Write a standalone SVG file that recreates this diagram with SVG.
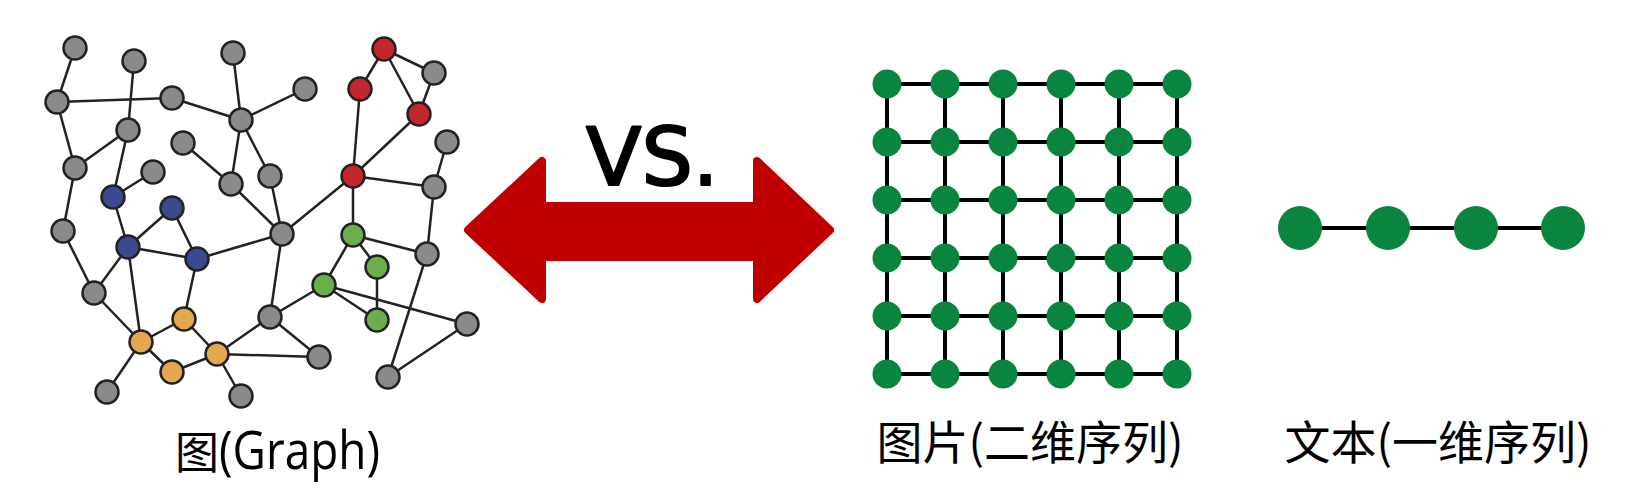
<svg xmlns="http://www.w3.org/2000/svg" width="1631" height="499" viewBox="0 0 1631 499">
<style>
.e{stroke:#222;stroke-width:2.5;fill:none}
.n{stroke:#222;stroke-width:2.5}
.g{fill:#8a8a8a}.b{fill:#3b4a8f}.r{fill:#c4262e}.v{fill:#6aaf4c}.o{fill:#e6a84e}
.gl{stroke:#000;stroke-width:4;fill:none}
.gn{fill:#0a8540}
.cj{font-family:"Noto Sans CJK SC",sans-serif;font-size:46px;fill:#000}
</style>
<rect width="1631" height="499" fill="#fff"/>
<g id="graph-edges">
<line class="e" x1="75" y1="48" x2="57" y2="102"/>
<line class="e" x1="57" y1="102" x2="172" y2="98"/>
<line class="e" x1="134" y1="61" x2="128" y2="130"/>
<line class="e" x1="172" y1="98" x2="241" y2="120"/>
<line class="e" x1="233" y1="53" x2="241" y2="120"/>
<line class="e" x1="241" y1="120" x2="305" y2="89"/>
<line class="e" x1="57" y1="102" x2="75" y2="168"/>
<line class="e" x1="128" y1="130" x2="75" y2="168"/>
<line class="e" x1="128" y1="130" x2="113" y2="197"/>
<line class="e" x1="113" y1="197" x2="153" y2="172"/>
<line class="e" x1="75" y1="168" x2="63" y2="231"/>
<line class="e" x1="183" y1="143" x2="231" y2="184"/>
<line class="e" x1="241" y1="120" x2="231" y2="184"/>
<line class="e" x1="241" y1="120" x2="270" y2="176"/>
<line class="e" x1="231" y1="184" x2="282" y2="234"/>
<line class="e" x1="270" y1="176" x2="282" y2="234"/>
<line class="e" x1="282" y1="234" x2="353" y2="176"/>
<line class="e" x1="353" y1="176" x2="360" y2="89"/>
<line class="e" x1="360" y1="89" x2="384" y2="49"/>
<line class="e" x1="384" y1="49" x2="434" y2="73"/>
<line class="e" x1="384" y1="49" x2="419" y2="114"/>
<line class="e" x1="434" y1="73" x2="419" y2="114"/>
<line class="e" x1="419" y1="114" x2="353" y2="176"/>
<line class="e" x1="353" y1="176" x2="434" y2="187"/>
<line class="e" x1="434" y1="187" x2="447" y2="142"/>
<line class="e" x1="353" y1="176" x2="353" y2="235"/>
<line class="e" x1="353" y1="235" x2="427" y2="254"/>
<line class="e" x1="353" y1="235" x2="377" y2="267"/>
<line class="e" x1="353" y1="235" x2="324" y2="285"/>
<line class="e" x1="377" y1="267" x2="377" y2="320"/>
<line class="e" x1="324" y1="285" x2="377" y2="320"/>
<line class="e" x1="324" y1="285" x2="467" y2="324"/>
<line class="e" x1="324" y1="285" x2="270" y2="317"/>
<line class="e" x1="434" y1="187" x2="427" y2="254"/>
<line class="e" x1="427" y1="254" x2="388" y2="377"/>
<line class="e" x1="388" y1="377" x2="467" y2="324"/>
<line class="e" x1="282" y1="234" x2="270" y2="317"/>
<line class="e" x1="282" y1="234" x2="197" y2="259"/>
<line class="e" x1="113" y1="197" x2="128" y2="247"/>
<line class="e" x1="172" y1="208" x2="128" y2="247"/>
<line class="e" x1="172" y1="208" x2="197" y2="259"/>
<line class="e" x1="128" y1="247" x2="197" y2="259"/>
<line class="e" x1="63" y1="231" x2="94" y2="293"/>
<line class="e" x1="128" y1="247" x2="94" y2="293"/>
<line class="e" x1="128" y1="247" x2="141" y2="342"/>
<line class="e" x1="94" y1="293" x2="141" y2="342"/>
<line class="e" x1="197" y1="259" x2="184" y2="319"/>
<line class="e" x1="184" y1="319" x2="141" y2="342"/>
<line class="e" x1="184" y1="319" x2="217" y2="354"/>
<line class="e" x1="141" y1="342" x2="172" y2="372"/>
<line class="e" x1="172" y1="372" x2="217" y2="354"/>
<line class="e" x1="141" y1="342" x2="107" y2="392"/>
<line class="e" x1="217" y1="354" x2="241" y2="396"/>
<line class="e" x1="217" y1="354" x2="270" y2="317"/>
<line class="e" x1="217" y1="354" x2="319" y2="357"/>
<line class="e" x1="270" y1="317" x2="319" y2="357"/>
</g>
<g id="graph-nodes">
<g id="n1"><circle class="n g" cx="75" cy="48" r="11.5"/></g>
<g id="n2"><circle class="n g" cx="134" cy="61" r="11.5"/></g>
<g id="n3"><circle class="n g" cx="233" cy="53" r="11.5"/></g>
<g id="n4"><circle class="n g" cx="57" cy="102" r="11.5"/></g>
<g id="n5"><circle class="n g" cx="172" cy="98" r="11.5"/></g>
<g id="n6"><circle class="n g" cx="128" cy="130" r="11.5"/></g>
<g id="n7"><circle class="n g" cx="241" cy="120" r="11.5"/></g>
<g id="n8"><circle class="n g" cx="305" cy="89" r="11.5"/></g>
<g id="n9"><circle class="n g" cx="183" cy="143" r="11.5"/></g>
<g id="n10"><circle class="n g" cx="75" cy="168" r="11.5"/></g>
<g id="n11"><circle class="n g" cx="153" cy="172" r="11.5"/></g>
<g id="n12"><circle class="n b" cx="113" cy="197" r="11.5"/></g>
<g id="n13"><circle class="n g" cx="231" cy="184" r="11.5"/></g>
<g id="n14"><circle class="n g" cx="270" cy="176" r="11.5"/></g>
<g id="n15"><circle class="n b" cx="172" cy="208" r="11.5"/></g>
<g id="n16"><circle class="n g" cx="63" cy="231" r="11.5"/></g>
<g id="n17"><circle class="n b" cx="128" cy="247" r="11.5"/></g>
<g id="n18"><circle class="n b" cx="197" cy="259" r="11.5"/></g>
<g id="n19"><circle class="n g" cx="94" cy="293" r="11.5"/></g>
<g id="n20"><circle class="n g" cx="282" cy="234" r="11.5"/></g>
<g id="n21"><circle class="n r" cx="384" cy="49" r="11.5"/></g>
<g id="n22"><circle class="n g" cx="434" cy="73" r="11.5"/></g>
<g id="n23"><circle class="n r" cx="360" cy="89" r="11.5"/></g>
<g id="n24"><circle class="n r" cx="419" cy="114" r="11.5"/></g>
<g id="n25"><circle class="n g" cx="447" cy="142" r="11.5"/></g>
<g id="n26"><circle class="n r" cx="353" cy="176" r="11.5"/></g>
<g id="n27"><circle class="n g" cx="434" cy="187" r="11.5"/></g>
<g id="n28"><circle class="n v" cx="353" cy="235" r="11.5"/></g>
<g id="n29"><circle class="n g" cx="427" cy="254" r="11.5"/></g>
<g id="n30"><circle class="n v" cx="377" cy="267" r="11.5"/></g>
<g id="n31"><circle class="n v" cx="324" cy="285" r="11.5"/></g>
<g id="n32"><circle class="n v" cx="377" cy="320" r="11.5"/></g>
<g id="n33"><circle class="n g" cx="270" cy="317" r="11.5"/></g>
<g id="n34"><circle class="n g" cx="467" cy="324" r="11.5"/></g>
<g id="n35"><circle class="n g" cx="319" cy="357" r="11.5"/></g>
<g id="n36"><circle class="n g" cx="388" cy="377" r="11.5"/></g>
<g id="n37"><circle class="n o" cx="184" cy="319" r="11.5"/></g>
<g id="n38"><circle class="n o" cx="141" cy="342" r="11.5"/></g>
<g id="n39"><circle class="n o" cx="217" cy="354" r="11.5"/></g>
<g id="n40"><circle class="n o" cx="172" cy="372" r="11.5"/></g>
<g id="n41"><circle class="n g" cx="107" cy="392" r="11.5"/></g>
<g id="n42"><circle class="n g" cx="241" cy="396" r="11.5"/></g>
</g>
<g id="graph-label">
<text class="cj" x="175" y="469" style="font-size:44px">图</text>
<text x="219" y="469" font-family="'Open Sans',sans-serif" font-size="53" textLength="161" lengthAdjust="spacingAndGlyphs">(Graph)</text>
</g>
<g id="vs-arrow">
<polygon points="468,230 542,161 542,206 757,206 757,161 830,230 757,299 757,257 542,257 542,299" fill="#c00000" stroke="#c00000" stroke-width="8" stroke-linejoin="round"/>
<text x="586" y="185" font-family="'DejaVu Sans',sans-serif" font-size="81" fill="#000" stroke="#000" stroke-width="2.2" stroke-linejoin="round">VS.</text>
</g>
<g id="grid-connectors">
<path class="gl" d="M887,84H1177M887,142H1177M887,200H1177M887,258H1177M887,316H1177M887,374H1177M887,84V374M945,84V374M1003,84V374M1061,84V374M1119,84V374M1177,84V374"/>
</g>
<g id="grid-nodes">
<g id="row1"><circle class="gn" cx="887" cy="84" r="14.5"/><circle class="gn" cx="945" cy="84" r="14.5"/><circle class="gn" cx="1003" cy="84" r="14.5"/><circle class="gn" cx="1061" cy="84" r="14.5"/><circle class="gn" cx="1119" cy="84" r="14.5"/><circle class="gn" cx="1177" cy="84" r="14.5"/></g>
<g id="row2"><circle class="gn" cx="887" cy="142" r="14.5"/><circle class="gn" cx="945" cy="142" r="14.5"/><circle class="gn" cx="1003" cy="142" r="14.5"/><circle class="gn" cx="1061" cy="142" r="14.5"/><circle class="gn" cx="1119" cy="142" r="14.5"/><circle class="gn" cx="1177" cy="142" r="14.5"/></g>
<g id="row3"><circle class="gn" cx="887" cy="200" r="14.5"/><circle class="gn" cx="945" cy="200" r="14.5"/><circle class="gn" cx="1003" cy="200" r="14.5"/><circle class="gn" cx="1061" cy="200" r="14.5"/><circle class="gn" cx="1119" cy="200" r="14.5"/><circle class="gn" cx="1177" cy="200" r="14.5"/></g>
<g id="row4"><circle class="gn" cx="887" cy="258" r="14.5"/><circle class="gn" cx="945" cy="258" r="14.5"/><circle class="gn" cx="1003" cy="258" r="14.5"/><circle class="gn" cx="1061" cy="258" r="14.5"/><circle class="gn" cx="1119" cy="258" r="14.5"/><circle class="gn" cx="1177" cy="258" r="14.5"/></g>
<g id="row5"><circle class="gn" cx="887" cy="316" r="14.5"/><circle class="gn" cx="945" cy="316" r="14.5"/><circle class="gn" cx="1003" cy="316" r="14.5"/><circle class="gn" cx="1061" cy="316" r="14.5"/><circle class="gn" cx="1119" cy="316" r="14.5"/><circle class="gn" cx="1177" cy="316" r="14.5"/></g>
<g id="row6"><circle class="gn" cx="887" cy="374" r="14.5"/><circle class="gn" cx="945" cy="374" r="14.5"/><circle class="gn" cx="1003" cy="374" r="14.5"/><circle class="gn" cx="1061" cy="374" r="14.5"/><circle class="gn" cx="1119" cy="374" r="14.5"/><circle class="gn" cx="1177" cy="374" r="14.5"/></g>
</g>
<g id="grid-label"><text class="cj" x="1030" y="459" text-anchor="middle">图片(二维序列)</text></g>
<g id="seq-connectors"><line class="gl" x1="1300" y1="228" x2="1563" y2="228"/></g>
<g id="seq-nodes">
<g id="s1"><circle class="gn" cx="1300" cy="228" r="22"/></g>
<g id="s2"><circle class="gn" cx="1388" cy="228" r="22"/></g>
<g id="s3"><circle class="gn" cx="1476" cy="228" r="22"/></g>
<g id="s4"><circle class="gn" cx="1563" cy="228" r="22"/></g>
</g>
<g id="seq-label"><text class="cj" x="1438" y="459" text-anchor="middle">文本(一维序列)</text></g>
</svg>
